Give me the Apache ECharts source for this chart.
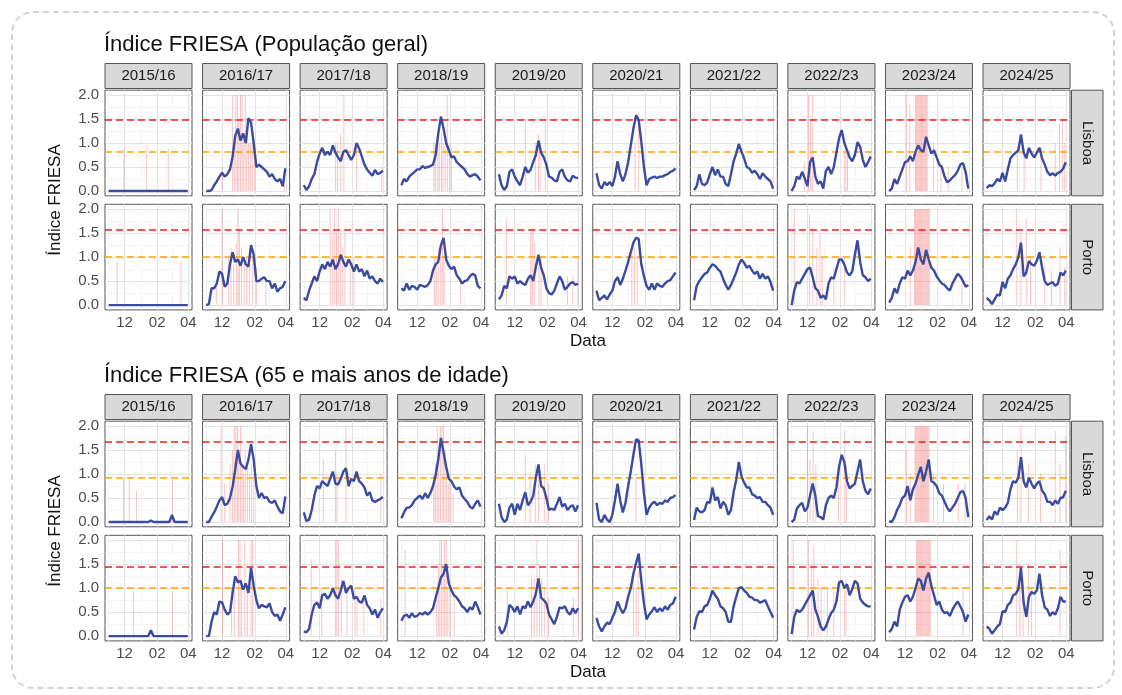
<!DOCTYPE html>
<html>
<head>
<meta charset="utf-8">
<script src="https://cdn.jsdelivr.net/npm/echarts@6.0.0/dist/echarts.min.js"></script>
<style>
  * { margin: 0; padding: 0; }
  body { background: #fff; }
  .moldura {
    position: absolute; left: 11px; top: 11px;
    width: 1100px; height: 674px;
    border: 2px dashed #d2d2d2; border-radius: 22px;
  }
  #grafico { position: absolute; left: 0; top: 0; width: 1122px; height: 695px; }
</style>
</head>
<body>
<div class="moldura"></div>
<div id="grafico"></div>
<script>
// dados (dias contados a partir de 1 de novembro)
const epocas = ['2015/16', '2016/17', '2017/18', '2018/19', '2019/20', '2020/21', '2021/22', '2022/23', '2023/24', '2024/25'];
const cidades = ['Lisboa', 'Porto'];
const titulos = ['Índice FRIESA (População geral)', 'Índice FRIESA (65 e mais anos de idade)'];
const dias = [0, 5, 10, 15, 20, 25, 30, 35, 40, 45, 50, 55, 60, 65, 70, 75, 80, 85, 90, 95, 100, 105, 110, 115, 120, 125, 130, 135, 140, 145, 150];
const diasTick = [30, 92, 151];
const rotulosTick = ['12', '02', '04'];
const diasMenores = [0, 61, 120];
const yTicks = [0, 0.5, 1, 1.5, 2];
const yMenores = [0.25, 0.75, 1.25, 1.75];

// limiares [Lisboa, Porto]
const limiarAltoGeral = [1.49, 1.56];
const limiarBaixoGeral = [0.82, 1.0];
const limiarAltoIdosos = [1.67, 1.45];
const limiarBaixoIdosos = [0.92, 1.0];

const geralLisboa = [
  [0,0,0,0,0,0,0,0,0,0, 0,0,0,0,0,0,0,0,0,0, 0,0,0,0,0,0,0,0,0,0, 0],
  [0,0,0.02,0.12,0.2,0.3,0.38,0.3,0.35,0.45, 0.72,1.15,1.3,1.05,1.2,1.0,1.52,1.42,1.0,0.5, 0.55,0.5,0.45,0.4,0.3,0.35,0.25,0.2,0.25,0.1, 0.47],
  [0.12,0.02,0.1,0.25,0.35,0.6,0.78,0.9,0.75,0.82, 0.75,0.95,0.8,0.7,0.62,0.82,0.85,0.75,0.65,0.75, 1.0,0.88,0.72,0.55,0.45,0.38,0.32,0.44,0.35,0.38, 0.42],
  [0.12,0.25,0.2,0.3,0.35,0.4,0.45,0.45,0.52,0.48, 0.5,0.52,0.55,0.75,1.2,1.55,1.3,1.0,0.85,0.7, 0.72,0.6,0.55,0.5,0.45,0.35,0.3,0.33,0.35,0.3, 0.22],
  [0.35,0.12,0.02,0.1,0.4,0.45,0.3,0.2,0.12,0.3, 0.5,0.38,0.44,0.6,0.75,1.05,0.8,0.7,0.55,0.3, 0.28,0.22,0.2,0.4,0.45,0.3,0.22,0.2,0.32,0.28, 0.27],
  [0.37,0.12,0.05,0.19,0.12,0.19,0.1,0.3,0.62,0.35, 0.2,0.35,0.6,0.95,1.3,1.58,1.48,1.03,0.5,0.12, 0.25,0.28,0.3,0.27,0.3,0.3,0.33,0.35,0.4,0.42, 0.47],
  [0.02,0.1,0.35,0.15,0.12,0.18,0.35,0.5,0.33,0.45, 0.3,0.3,0.15,0.1,0.35,0.62,0.78,0.98,0.82,0.68, 0.5,0.47,0.38,0.42,0.35,0.25,0.37,0.3,0.25,0.2, 0.05],
  [0.0,0.1,0.3,0.25,0.4,0.26,0.1,0.6,0.7,0.3, 0.15,0.2,0.05,0.42,0.5,0.35,0.5,0.8,1.1,1.27, 1.0,0.85,0.7,0.62,0.75,1.02,0.92,0.65,0.5,0.6, 0.72],
  [0,0.05,0.25,0.15,0.3,0.45,0.6,0.62,0.72,0.62, 0.82,0.95,0.85,0.82,1.13,0.95,0.78,0.85,0.7,0.55, 0.5,0.3,0.18,0.22,0.28,0.33,0.42,0.55,0.58,0.4, 0.05],
  [0.06,0.12,0.1,0.16,0.25,0.2,0.38,0.2,0.45,0.68, 0.75,0.8,0.85,1.18,0.8,0.68,0.9,0.78,0.7,0.8, 0.9,0.68,0.55,0.4,0.33,0.37,0.32,0.38,0.4,0.47, 0.6]
];
const geralPorto = [
  [0,0,0,0,0,0,0,0,0,0, 0,0,0,0,0,0,0,0,0,0, 0,0,0,0,0,0,0,0,0,0, 0],
  [0,0.02,0.35,0.35,0.45,0.7,0.65,0.38,0.45,0.85, 1.1,0.9,0.95,0.82,1.0,0.85,0.8,1.25,1.05,0.5, 0.5,0.55,0.58,0.5,0.5,0.35,0.45,0.28,0.35,0.38, 0.5],
  [0.15,0.1,0.3,0.45,0.6,0.5,0.7,0.85,0.75,0.9, 0.8,0.95,0.75,0.85,1.05,0.9,0.8,0.95,0.85,0.7, 0.85,0.7,0.75,0.6,0.72,0.55,0.6,0.5,0.45,0.55, 0.48],
  [0.35,0.3,0.45,0.32,0.4,0.38,0.32,0.42,0.4,0.38, 0.42,0.5,0.72,0.85,0.9,1.25,1.4,0.95,0.82,0.75, 0.8,0.62,0.55,0.45,0.5,0.52,0.6,0.65,0.62,0.4, 0.35],
  [0.12,0.2,0.4,0.35,0.6,0.55,0.6,0.45,0.5,0.45, 0.42,0.55,0.62,0.5,0.8,1.05,0.78,0.62,0.35,0.25, 0.22,0.3,0.45,0.6,0.5,0.32,0.38,0.45,0.48,0.42, 0.45],
  [0.3,0.1,0.15,0.2,0.12,0.22,0.3,0.5,0.58,0.42, 0.55,0.72,0.9,1.1,1.3,1.4,1.38,0.85,0.6,0.4, 0.32,0.45,0.32,0.45,0.4,0.38,0.45,0.5,0.52,0.6, 0.68],
  [0.1,0.4,0.5,0.58,0.65,0.68,0.78,0.85,0.82,0.75, 0.7,0.55,0.42,0.32,0.42,0.55,0.68,0.85,0.95,0.88, 0.78,0.82,0.72,0.65,0.7,0.55,0.65,0.55,0.6,0.48, 0.3],
  [0.0,0.3,0.48,0.45,0.55,0.65,0.75,0.78,0.58,0.35, 0.3,0.15,0.2,0.12,0.45,0.58,0.55,0.75,0.95,0.95, 0.85,0.68,0.62,0.7,1.05,1.35,0.9,0.62,0.58,0.5, 0.55],
  [0.05,0.15,0.35,0.25,0.45,0.58,0.55,0.72,0.62,0.72, 0.9,1.2,0.95,0.85,1.15,0.95,0.78,0.72,0.6,0.52, 0.45,0.42,0.35,0.3,0.45,0.55,0.65,0.6,0.5,0.38, 0.42],
  [0.15,0.1,0.02,0.12,0.22,0.2,0.48,0.35,0.55,0.62, 0.75,0.85,1.0,1.3,0.6,0.68,0.92,0.85,0.82,0.92, 1.1,0.78,0.5,0.42,0.45,0.48,0.4,0.45,0.68,0.62, 0.72]
];
const idososLisboa = [
  [0,0,0,0,0,0,0,0,0,0, 0,0,0,0,0,0,0.03,0,0,0, 0,0,0,0,0.15,0,0,0,0,0, 0],
  [0,0,0.11,0.2,0.32,0.45,0.52,0.35,0.38,0.5, 0.74,1.1,1.5,1.22,1.15,1.1,1.3,1.62,1.3,0.75, 0.5,0.6,0.5,0.52,0.42,0.4,0.45,0.32,0.22,0.18, 0.53],
  [0.2,0.02,0.05,0.25,0.55,0.75,0.7,0.85,0.8,0.75, 0.9,1.05,0.8,0.78,0.9,1.05,1.12,0.75,0.9,0.85, 1.05,0.85,0.8,0.72,0.55,0.62,0.45,0.42,0.45,0.48, 0.52],
  [0.08,0.2,0.3,0.3,0.35,0.45,0.5,0.55,0.48,0.6, 0.5,0.6,0.75,0.98,1.3,1.75,1.45,1.15,0.9,0.85, 0.74,0.68,0.72,0.55,0.48,0.42,0.32,0.28,0.38,0.45, 0.32],
  [0.38,0.1,0.0,0.05,0.3,0.38,0.15,0.38,0.25,0.45, 0.62,0.35,0.42,0.55,0.92,1.2,0.75,0.7,0.5,0.25, 0.28,0.25,0.38,0.52,0.32,0.38,0.25,0.32,0.35,0.22, 0.35],
  [0.4,0.05,0.0,0.15,0.05,0.0,0.15,0.45,0.8,0.45, 0.2,0.4,0.75,1.05,1.4,1.72,1.7,1.2,0.6,0.15, 0.3,0.38,0.42,0.35,0.4,0.38,0.45,0.42,0.5,0.52, 0.56],
  [0.04,0.3,0.22,0.2,0.25,0.42,0.4,0.72,0.45,0.52, 0.28,0.42,0.35,0.15,0.25,0.62,0.88,1.25,0.95,0.82, 0.72,0.72,0.58,0.55,0.5,0.52,0.42,0.42,0.35,0.3, 0.15],
  [0.0,0.05,0.28,0.35,0.4,0.22,0.3,0.55,0.8,0.55, 0.12,0.1,0.05,0.35,0.5,0.55,0.5,0.72,1.15,1.4, 1.25,0.85,0.7,0.75,0.8,1.05,1.3,0.85,0.65,0.58, 0.7],
  [0.02,0.0,0.1,0.25,0.35,0.5,0.55,0.75,0.45,0.68, 0.8,0.98,1.15,0.85,1.05,1.3,0.85,0.82,0.75,0.6, 0.55,0.42,0.3,0.22,0.3,0.38,0.5,0.62,0.65,0.5, 0.1],
  [0.04,0.12,0.05,0.22,0.15,0.3,0.25,0.3,0.4,0.68, 0.85,0.82,0.92,1.35,0.85,0.72,0.92,0.8,0.7,0.8, 0.85,0.65,0.58,0.42,0.42,0.35,0.45,0.38,0.5,0.52, 0.65]
];
const idososPorto = [
  [0,0,0,0,0,0,0,0,0,0, 0,0,0,0,0,0,0.12,0,0,0, 0,0,0,0,0,0,0,0,0,0, 0],
  [0,0,0.3,0.5,0.45,0.72,0.7,0.55,0.45,0.5, 0.9,1.25,1.12,1.15,0.97,1.1,0.9,1.42,1.05,0.75, 0.58,0.65,0.62,0.6,0.68,0.5,0.42,0.45,0.32,0.45, 0.6],
  [0.1,0.08,0.15,0.45,0.65,0.7,0.58,0.85,0.88,0.78, 0.85,1.0,0.85,0.78,0.95,1.15,0.9,1.0,1.05,0.78, 0.82,0.72,0.7,0.85,0.65,0.58,0.45,0.55,0.38,0.5, 0.58],
  [0.32,0.42,0.45,0.38,0.48,0.4,0.42,0.48,0.45,0.5, 0.45,0.5,0.58,0.8,1.0,1.22,1.3,1.5,1.1,0.95, 0.85,0.8,0.72,0.62,0.58,0.5,0.6,0.55,0.72,0.6, 0.45],
  [0.2,0.05,0.12,0.3,0.65,0.6,0.5,0.62,0.45,0.62, 0.58,0.72,0.6,0.72,0.88,1.2,0.8,0.75,0.68,0.45, 0.35,0.25,0.4,0.6,0.58,0.62,0.5,0.45,0.58,0.48, 0.58],
  [0.38,0.2,0.1,0.2,0.28,0.25,0.38,0.5,0.72,0.58, 0.48,0.58,0.82,1.0,1.3,1.52,1.72,1.15,0.68,0.35, 0.45,0.52,0.6,0.5,0.58,0.52,0.62,0.55,0.65,0.68, 0.82],
  [0.14,0.4,0.52,0.5,0.62,0.65,0.78,0.95,0.85,0.78, 0.62,0.58,0.5,0.3,0.3,0.62,0.82,1.0,1.02,0.95, 0.9,0.82,0.8,0.75,0.75,0.7,0.72,0.75,0.62,0.5, 0.38],
  [0.04,0.4,0.55,0.5,0.55,0.65,0.75,0.85,0.95,0.55, 0.4,0.2,0.12,0.2,0.35,0.48,0.55,0.72,1.12,1.15, 1.0,1.08,0.85,0.98,1.15,1.1,0.78,0.7,0.65,0.62, 0.62],
  [0.08,0.15,0.3,0.2,0.55,0.7,0.82,0.85,0.72,0.82, 1.0,1.2,1.15,0.95,1.2,1.32,1.05,0.85,0.65,0.72, 0.55,0.48,0.5,0.42,0.55,0.65,0.72,0.62,0.5,0.3, 0.45],
  [0.2,0.15,0.05,0.12,0.2,0.25,0.52,0.5,0.65,0.7, 0.85,0.88,0.98,1.42,0.7,0.4,0.82,0.92,0.88,0.95, 1.3,0.85,0.6,0.55,0.42,0.5,0.45,0.58,0.82,0.72, 0.72]
];

// dias de alerta [dia, altura]
const alertasGeralLisboa = [
  [[29,0.9],[72,0.95],[113,0.88]],
  [[30,0.5],[50,2],[53,1.2],[56,2],[59,2],[62,1.5],[65,2],[68,2],[71,1.2],[74,2],[77,1.2],[80,1.0],[84,1.0],[88,1.0],[92,0.9],[148,0.4]],
  [[60,1.0],[64,1.0],[70,1.2],[76,2.0],[100,1.0],[148,0.5]],
  [[62,1.0],[65,1.0],[69,1.1],[72,1.0],[76,1.2],[79,1.0],[83,1.0],[87,2.0],[91,1.0],[95,0.9]],
  [[50,1.5],[69,1.0],[75,1.2],[78,1.0],[88,1.5]],
  [[73,1.0],[80,1.65]],
  [],
  [[24,0.6],[32,2.0],[36,1.5],[40,2.0],[100,0.8],[103,0.8],[106,0.8]],
  [[33,2],[39,1.8],[50,2],[52,2],[54,2],[56,2],[58,2],[60,2],[62,2],[64,2],[66,2],[68,2],[70,2],[72,2],[84,1.0],[98,0.6],[112,0.5],[138,0.5]],
  [[58,0.95],[71,0.9],[103,0.9],[130,1.0],[138,1.4],[144,1.5],[148,1.0]]
];
const alertasGeralPorto = [
  [[16,0.9],[137,0.9]],
  [[20,0.5],[30,2.0],[42,1.0],[47,1.2],[52,1.0],[57,1.3],[60,2.0],[63,1.6],[67,1.2],[72,1.0],[77,1.0],[82,1.2],[88,1.0],[95,0.8],[113,0.5]],
  [[50,2.0],[54,1.5],[58,2.0],[62,1.5],[66,2.0],[70,1.5],[74,1.2],[78,1.5],[88,1.0],[95,1.0]],
  [[63,1.0],[66,1.0],[70,1.2],[74,1.0],[78,2.0],[81,1.0],[112,0.5]],
  [[14,1.8],[60,1.5],[64,1.6],[68,1.3],[76,1.0],[80,1.0],[130,0.6],[140,0.6],[150,1.0]],
  [[67,1.2],[72,1.2],[77,1.0]],
  [],
  [[5,2.0],[34,1.9],[40,1.6],[48,1.2],[54,1.5],[58,1.0],[80,0.8],[100,1.0]],
  [[40,1.2],[48,2],[50,2],[52,2],[54,2],[56,2],[58,2],[60,2],[62,2],[64,2],[66,2],[68,2],[70,2],[72,2],[74,2],[76,2],[138,0.6]],
  [[57,2.0],[65,1.5],[75,1.8],[83,1.0],[110,0.8],[123,0.7],[139,1.2],[148,0.8]]
];
const alertasIdososLisboa = [
  [[28,0.9],[39,0.9],[53,0.65],[121,0.9]],
  [[28,2.0],[35,0.8],[45,1.2],[50,1.5],[53,2.0],[56,2.0],[59,2.0],[62,1.5],[65,2.0],[68,1.2],[71,1.0],[74,1.5],[78,1.2],[82,1.0],[86,1.2],[90,1.0]],
  [[37,1.3],[60,1.5],[63,1.0],[80,2.0],[146,1.0]],
  [[62,1.0],[65,1.2],[68,2.0],[71,1.5],[74,2.0],[77,2.0],[80,2.0],[83,1.5],[86,1.0],[89,0.8],[92,1.0],[98,0.6]],
  [[50,1.4],[59,1.0],[69,1.2],[75,1.0],[86,1.2],[94,0.8]],
  [[75,1.0]],
  [],
  [[30,2.0],[35,1.3],[41,1.9],[46,1.2],[89,1.0],[101,1.9],[104,1.2]],
  [[33,1.5],[40,1.0],[49,2],[51,2],[53,2],[55,2],[57,2],[59,2],[61,2],[63,2],[65,2],[67,2],[69,2],[71,2],[73,2],[75,2],[84,1.0],[103,0.8],[131,0.8],[144,0.8]],
  [[58,1.5],[65,2.0],[79,1.2],[102,1.0],[130,1.9],[139,1.2],[150,1.8]]
];
const alertasIdososPorto = [
  [[47,0.95],[121,0.95]],
  [[31,2.0],[48,1.0],[53,1.2],[61,2.0],[64,2.0],[67,1.2],[73,2.0],[78,1.0],[85,2.0],[88,2.0]],
  [[14,1.6],[34,1.0],[60,2.0],[63,2.0],[66,2.0],[71,1.2],[82,1.0],[97,1.0],[101,0.8],[114,0.8],[146,0.8]],
  [[7,1.8],[67,1.0],[70,1.5],[73,2.0],[76,2.0],[79,1.5],[82,2.0],[85,2.0],[88,1.0],[92,1.0],[100,0.8]],
  [[16,1.0],[62,1.2],[67,1.2],[72,2.0],[77,1.5],[81,1.2],[86,1.0],[94,0.8],[141,0.8],[151,2.0]],
  [[70,1.35],[75,1.0],[79,1.35]],
  [],
  [[3,2.0],[32,2.0],[38,1.5],[42,1.9],[50,1.2],[56,1.0],[68,1.0],[80,1.0],[100,1.0],[103,1.2]],
  [[52,2],[54,2],[56,2],[58,2],[60,2],[62,2],[64,2],[66,2],[68,2],[70,2],[72,2],[74,2],[76,2],[78,2],[140,1.0]],
  [[57,2.0],[63,1.5],[69,1.2],[79,1.5],[85,1.0],[139,1.8]]
];

// layout
const fonte = '"Liberation Sans", Arial, Helvetica, sans-serif';
const X0 = 105, PASSO = 97.56, LARG = 87, ALT = 105.6;
const topoLinhas = [90.2, 204.3];

const graficos = [
  { titulo: titulos[0], desloc: 0, valores: [geralLisboa, geralPorto], alertas: [alertasGeralLisboa, alertasGeralPorto], alto: limiarAltoGeral, baixo: limiarBaixoGeral },
  { titulo: titulos[1], desloc: 331, valores: [idososLisboa, idososPorto], alertas: [alertasIdososLisboa, alertasIdososPorto], alto: limiarAltoIdosos, baixo: limiarBaixoIdosos }
];

const estiloMenor = { color: '#f0f0f0', width: 0.7, type: 'solid' };
const estiloMaior = { color: '#e4e4e4', width: 1.1, type: 'solid' };
const linhasGrelha = [
  ...yMenores.map(v => ({ yAxis: v, lineStyle: estiloMenor })),
  ...diasMenores.map(d => ({ xAxis: d, lineStyle: estiloMenor })),
  ...yTicks.map(v => ({ yAxis: v, lineStyle: estiloMaior })),
  ...diasTick.map(d => ({ xAxis: d, lineStyle: estiloMaior }))
];

const grids = [], xAxes = [], yAxes = [], series = [], graphic = [];

graficos.forEach(g => {
  const off = g.desloc;
  graphic.push({ type: 'text', x: 104, y: off + 45, style: { text: g.titulo, fontSize: 22, fontFamily: fonte, fill: '#111', textVerticalAlign: 'middle' } });
  graphic.push({ type: 'text', x: 588, y: off + 341, style: { text: 'Data', fontSize: 17, fontFamily: fonte, fill: '#111', textAlign: 'center', textVerticalAlign: 'middle' } });
  graphic.push({ type: 'text', x: 55, y: off + 200, rotation: Math.PI / 2, style: { text: 'Índice FRIESA', fontSize: 17, fontFamily: fonte, fill: '#111', textAlign: 'center', textVerticalAlign: 'middle' } });

  epocas.forEach((ep, c) => {
    const left = X0 + c * PASSO;
    graphic.push({ type: 'rect', shape: { x: left, y: off + 63.5, width: LARG, height: 25 }, style: { fill: '#d9d9d9', stroke: '#555', lineWidth: 1 } });
    graphic.push({ type: 'text', x: left + LARG / 2, y: off + 76, style: { text: ep, fontSize: 15, fontFamily: fonte, fill: '#1a1a1a', textAlign: 'center', textVerticalAlign: 'middle' } });

    cidades.forEach((cid, r) => {
      const top = off + topoLinhas[r];
      const k = grids.length;
      grids.push({ left: left, top: top, width: LARG, height: ALT, show: true, backgroundColor: '#fff', borderColor: '#555', borderWidth: 1, containLabel: false, outerBoundsMode: 'none' });
      xAxes.push({
        gridIndex: k, type: 'value', min: -7, max: 158,
        axisLine: { show: false }, splitLine: { show: false },
        axisTick: { show: r === 1, customValues: diasTick, length: 4, lineStyle: { color: '#333' } },
        axisLabel: { show: r === 1, customValues: diasTick, margin: 5, fontSize: 15, fontFamily: fonte, color: '#4d4d4d',
          formatter: v => rotulosTick[diasTick.indexOf(v)] }
      });
      yAxes.push({
        gridIndex: k, type: 'value', min: -0.1, max: 2.1,
        axisLine: { show: false }, splitLine: { show: false },
        axisTick: { show: c === 0, customValues: yTicks, length: 4, lineStyle: { color: '#333' } },
        axisLabel: { show: c === 0, customValues: yTicks, margin: 6, fontSize: 15, fontFamily: fonte, color: '#4d4d4d',
          formatter: v => v.toFixed(1) }
      });
      series.push({
        type: 'bar', xAxisIndex: k, yAxisIndex: k, z: 2,
        data: g.alertas[r][c], barWidth: 1, silent: true,
        itemStyle: { color: 'rgba(242,60,60,0.3)' },
        markLine: { silent: true, z: 1, symbol: ['none', 'none'], label: { show: false }, animation: false, data: linhasGrelha }
      });
      series.push({
        type: 'line', xAxisIndex: k, yAxisIndex: k, z: 4,
        data: dias.map((d, i) => [d, g.valores[r][c][i]]),
        showSymbol: false, silent: true,
        lineStyle: { color: '#3a4ca0', width: 2.4 },
        markLine: { silent: true, z: 3, symbol: ['none', 'none'], label: { show: false }, animation: false,
          data: [
            { yAxis: g.alto[r], lineStyle: { color: '#f01e1e', width: 1.6, type: [7, 4] } },
            { yAxis: g.baixo[r], lineStyle: { color: '#ffa500', width: 1.6, type: [7, 4] } }
          ] }
      });
    });
  });

  cidades.forEach((cid, r) => {
    const top = off + topoLinhas[r];
    graphic.push({ type: 'rect', shape: { x: 1071.5, y: top, width: 31.5, height: ALT }, style: { fill: '#d9d9d9', stroke: '#555', lineWidth: 1 } });
    graphic.push({ type: 'text', x: 1087.5, y: top + ALT / 2, rotation: -Math.PI / 2, style: { text: cid, fontSize: 15, fontFamily: fonte, fill: '#1a1a1a', textAlign: 'center', textVerticalAlign: 'middle' } });
  });
});

const grafico = echarts.init(document.getElementById('grafico'));
grafico.setOption({
  animation: false,
  grid: grids,
  xAxis: xAxes,
  yAxis: yAxes,
  series: series,
  graphic: graphic
});
</script>
</body>
</html>
